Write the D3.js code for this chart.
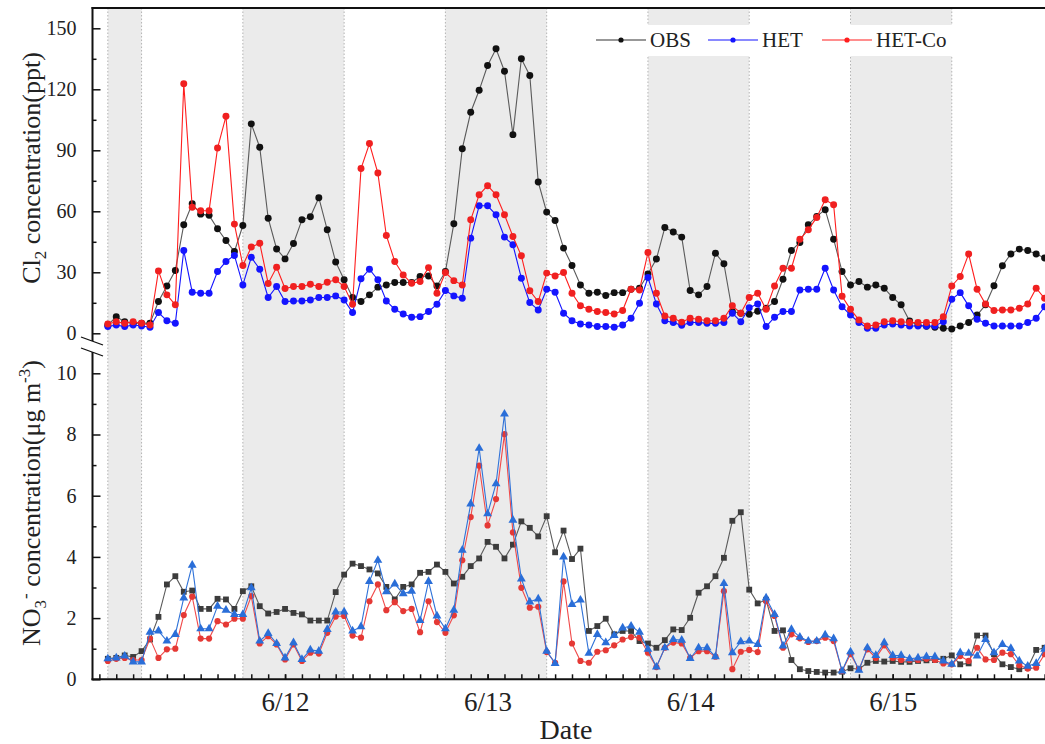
<!DOCTYPE html>
<html>
<head>
<meta charset="utf-8">
<script src="https://cdn.jsdelivr.net/npm/d3@7"></script>
<style>
  body { margin: 0; background: #fff; }
  svg { font-family: "Liberation Serif", "Times New Roman", serif; }
</style>
</head>
<body>
<div id="visContainerDiv"></div>
<script>
// hourly samples, first one at 03:00 on 6/11 (hour 3 counted from 6/11 00:00)
var startHour = 3;
var dayLabels = ["6/12", "6/13", "6/14", "6/15"];
var dayHours = [24, 48, 72, 96];
var nightBands = [[3, 7], [19, 31], [43, 55], [67, 79], [91, 103]];
var seriesNames = ["OBS", "HET", "HET-Co"];

var cl2Obs = [4, 8.2, 5.7, 5, 5, 5, 15.6, 23.3, 30.9, 53.4, 63.7, 58.6, 58, 51.4, 45.6, 40.2, 53, 103, 91.5, 56.6,
  41.5, 36.6, 44.2, 55.8, 57.3, 66.7, 50.9, 35.1, 26.3, 17.6, 15.6, 18.9, 22.7, 23.8, 25, 25, 25, 27.9, 28.2, 23.3,
  30.4, 53.9, 90.8, 108.7, 119.5, 131.7, 139.9, 128.9, 97.7, 135, 126.8, 74.4, 59.6, 55.5, 41.9, 33.3, 23.8, 19.7, 20.2, 18.6,
  20, 20, 21.7, 22.2, 29.2, 36.5, 52, 49.8, 47.3, 21, 18.9, 23, 39.4, 34.2, 10.7, 9.9, 9.4, 10.8, 12.3, 15.6,
  26.6, 40.7, 44.7, 53.4, 57.5, 60.8, 46.3, 30.4, 23.8, 25.5, 22.7, 23.8, 22.2, 17.6, 14, 6, 4, 3.5, 3, 2.5,
  2.1, 3.6, 5.3, 9, 14, 23.4, 33.2, 39, 41.4, 40.7, 39, 37];
var cl2Het = [3.3, 4.1, 3.3, 4.1, 3.6, 3, 10.2, 6.2, 4.9, 40.7, 20.2, 19.7, 19.7, 30.4, 35.3, 38.3, 23.8, 37.4, 31.5, 17.6,
  23, 15.6, 15.9, 15.9, 16.4, 17.6, 17.6, 18.4, 16.4, 10.2, 26.8, 31.5, 26.3, 15.9, 11.8, 9.5, 7.9, 8.2, 10.7, 14.3,
  21, 18.4, 17.2, 46.8, 62.7, 62.7, 58.3, 47.3, 43.5, 27.1, 15.1, 11.5, 21.7, 20.2, 9.9, 6.2, 4.6, 4.1, 3.3, 3.3,
  3, 4.1, 7.4, 14.8, 27.4, 14.4, 6.2, 5.3, 3.9, 5.3, 5.3, 4.9, 4.9, 5.3, 9.9, 5.7, 12.6, 14.4, 3.3, 7.9,
  10.7, 10.7, 21.3, 21.7, 21.7, 32, 21.3, 13.1, 9, 5.3, 2.5, 2.5, 4.1, 4.6, 4.1, 3.6, 3.6, 3.6, 3.6, 5.7,
  16.7, 20, 13.5, 6.9, 4.9, 3.6, 3.6, 3.6, 3.6, 5.3, 7.4, 13.1];
var cl2HetCo = [4.6, 5.7, 4.9, 5.7, 4.9, 4.1, 30.7, 18.9, 14, 122.7, 62, 60.3, 60.3, 91.1, 106.7, 53.7, 33.3, 42.4, 44.3, 24.5,
  32.5, 22, 23, 23, 24.1, 23, 25.1, 26.3, 23, 14.3, 81, 93.3, 78.8, 48.1, 35.3, 28.7, 24.6, 25.5, 32.3, 19.7,
  29.9, 25.9, 23.8, 55.8, 68.1, 72.6, 68.1, 58.3, 47.6, 38.1, 20.9, 15.6, 29.6, 28.2, 29.9, 19.7, 13.5, 11.8, 10.7, 10.2,
  9.5, 11.2, 21.7, 21.3, 39.7, 19.7, 8.5, 7.4, 5.5, 7.4, 6.9, 6.2, 6.2, 7.4, 13.5, 9.9, 17.6, 19.7, 11.8, 23.3,
  32, 32, 46.3, 50.9, 57, 65.7, 63.2, 18.2, 11.8, 6.6, 3.6, 4.1, 5.7, 6.2, 5.7, 5.3, 5.3, 5.3, 5.3, 8.2,
  23.3, 27.9, 39, 21.7, 14.4, 11.2, 11.5, 11.5, 12.3, 14.4, 22.2, 17.2];

var no3Obs = [0.67, 0.7, 0.78, 0.73, 0.92, 1.3, 2.04, 3.1, 3.37, 2.86, 2.9, 2.3, 2.3, 2.63, 2.61, 2.3, 2.88, 3.04, 2.39, 2.15,
  2.2, 2.3, 2.17, 2.12, 1.92, 1.92, 1.92, 2.85, 3.42, 3.78, 3.7, 3.59, 3.46, 3.02, 2.61, 3.02, 3.1, 3.48, 3.51, 3.75,
  3.51, 3.13, 3.35, 3.7, 3.95, 4.49, 4.33, 3.95, 4.4, 5.16, 4.95, 4.67, 5.33, 4.15, 4.86, 3.93, 4.27, 1.58, 1.74, 1.98,
  1.47, 1.58, 1.58, 1.25, 1.17, 1.03, 1.28, 1.63, 1.61, 2.01, 2.83, 3.04, 3.37, 3.97, 5.18, 5.46, 2.93, 2.48, 2.6, 1.58,
  1.6, 0.63, 0.33, 0.27, 0.24, 0.22, 0.22, 0.25, 0.36, 0.33, 0.54, 0.6, 0.58, 0.6, 0.57, 0.57, 0.6, 0.62, 0.63, 0.67,
  0.78, 0.49, 0.52, 1.43, 1.43, 0.82, 0.49, 0.4, 0.33, 0.38, 0.96, 1.03];
var no3Het = [0.67, 0.7, 0.76, 0.57, 0.57, 1.54, 1.58, 1.25, 1.47, 2.66, 3.73, 1.65, 1.65, 2.39, 2.26, 2.12, 2.12, 2.99, 1.25, 1.5,
  1.17, 0.7, 1.2, 0.65, 0.96, 0.92, 1.63, 2.2, 2.2, 1.58, 1.72, 3.2, 3.89, 2.86, 3.12, 2.8, 2.88, 1.92, 3.2, 2.07,
  1.65, 2.26, 4.22, 5.73, 7.55, 5.41, 6.39, 8.67, 5.2, 3.28, 2.53, 2.63, 0.92, 0.52, 4, 2.45, 2.59, 0.85, 1.47, 1.2,
  1.43, 1.68, 1.74, 1.54, 0.98, 0.4, 1.03, 1.3, 1.28, 0.68, 1.03, 1.03, 0.74, 3.13, 0.87, 1.23, 1.25, 1.14, 2.66, 2.12,
  1.09, 1.63, 1.38, 1.25, 1.25, 1.45, 1.33, 0.27, 0.9, 0.3, 1.03, 0.78, 1.2, 0.78, 0.78, 0.67, 0.7, 0.74, 0.74, 0.6,
  0.49, 0.87, 0.85, 0.76, 1.3, 0.87, 1.14, 1.01, 0.6, 0.43, 0.52, 0.98];
var no3HetCo = [0.6, 0.67, 0.7, 0.63, 0.63, 1.33, 0.7, 0.98, 1, 2.1, 2.7, 1.33, 1.33, 1.9, 1.79, 1.98, 1.98, 2.72, 1.17, 1.41,
  1.14, 0.65, 1.14, 0.6, 0.87, 0.84, 1.52, 2.05, 2.07, 1.43, 1.36, 2.55, 3.1, 2.26, 2.52, 2.23, 2.3, 1.54, 2.55, 1.87,
  1.52, 2.09, 3.89, 5.3, 6.98, 5.03, 5.89, 8.01, 4.8, 2.99, 2.34, 2.37, 0.89, 0.54, 3.2, 1.17, 0.6, 0.54, 0.9, 0.95,
  1.11, 1.3, 1.38, 1.36, 0.87, 0.4, 1.03, 1.2, 1.17, 0.7, 0.92, 0.92, 0.74, 2.88, 0.33, 0.9, 0.96, 0.89, 2.55, 2.07,
  1.03, 1.47, 1.34, 1.22, 1.25, 1.36, 1.25, 0.27, 0.82, 0.33, 0.98, 0.7, 1.11, 0.7, 0.63, 0.63, 0.63, 0.67, 0.63, 0.52,
  0.49, 0.76, 0.6, 1.03, 0.65, 0.63, 0.87, 0.82, 0.46, 0.35, 0.38, 0.82];

var W = 1045, H = 744;
var plotLeft = 92.5, plotRight = 1065, plotTop = 8, plotBottom = 679.3;
var breakTop = 341, breakBot = 352;

var x = d3.scaleLinear().domain([0, 96]).range([82.5, 892.7]);
var yTop = d3.scaleLinear().domain([0, 150]).range([333.3, 28.3]);
var yBot = d3.scaleLinear().domain([0, 10]).range([679.3, 373.3]);

var svg = d3.select("#visContainerDiv").append("svg")
  .attr("width", W).attr("height", H);

// night shading, dotted edges
svg.append("g").selectAll("rect")
  .data(nightBands)
  .enter().append("rect")
  .attr("x", function(d) { return x(d[0]); })
  .attr("y", plotTop)
  .attr("width", function(d) { return x(d[1]) - x(d[0]); })
  .attr("height", plotBottom - plotTop)
  .attr("fill", "#ebebeb");

var edges = [];
nightBands.forEach(function(d) { edges.push(d[0], d[1]); });
svg.append("g").selectAll("line")
  .data(edges)
  .enter().append("line")
  .attr("x1", function(d) { return x(d); }).attr("x2", function(d) { return x(d); })
  .attr("y1", plotTop).attr("y2", plotBottom)
  .attr("stroke", "#b4b4b4").attr("stroke-width", 1)
  .attr("stroke-dasharray", "1.5,2");

// legend box (white patch under the legend)
svg.append("rect")
  .attr("x", 588).attr("y", 25).attr("width", 367).attr("height", 31)
  .attr("fill", "#fff");

function hourOf(i) { return startHour + i; }

function drawSeries(values, yScale, lineColor, markColor, shape, size) {
  var g = svg.append("g");
  var line = d3.line()
    .x(function(d, i) { return x(hourOf(i)); })
    .y(function(d) { return yScale(d); });
  g.append("path")
    .datum(values)
    .attr("d", line)
    .attr("fill", "none")
    .attr("stroke", lineColor)
    .attr("stroke-width", 1.1);
  g.selectAll("path.mk")
    .data(values)
    .enter().append("path")
    .attr("class", "mk")
    .attr("transform", function(d, i) { return "translate(" + x(hourOf(i)) + "," + yScale(d) + ")"; })
    .attr("d", d3.symbol().type(shape).size(size))
    .attr("fill", markColor);
}

// Cl2 panel
drawSeries(cl2Obs, yTop, "#5a5a5a", "#111", d3.symbolCircle, 38);
drawSeries(cl2Het, yTop, "#1414ff", "#1414ff", d3.symbolCircle, 38);
drawSeries(cl2HetCo, yTop, "#ff1e1e", "#f02020", d3.symbolCircle, 38);

// NO3- panel
drawSeries(no3Obs, yBot, "#5a5a5a", "#3c3c3c", d3.symbolSquare, 34);
drawSeries(no3HetCo, yBot, "#f04a4a", "#e53935", d3.symbolCircle, 30);
drawSeries(no3Het, yBot, "#2f72d8", "#2a6ed8", d3.symbolTriangle, 34);

// axes
var axisG = svg.append("g").attr("stroke", "#111").attr("stroke-width", 2).attr("fill", "none");
axisG.append("line").attr("x1", plotLeft).attr("x2", plotLeft).attr("y1", plotTop - 1).attr("y2", breakTop);
axisG.append("line").attr("x1", plotLeft).attr("x2", plotLeft).attr("y1", breakBot).attr("y2", plotBottom + 1);
axisG.append("line").attr("x1", plotLeft - 1).attr("x2", plotRight).attr("y1", plotTop).attr("y2", plotTop);
axisG.append("line").attr("x1", plotLeft - 1).attr("x2", plotRight).attr("y1", plotBottom).attr("y2", plotBottom);
// break marks
axisG.append("line").attr("x1", 81).attr("y1", 337).attr("x2", 103).attr("y2", 345).attr("stroke-width", 1.3);
axisG.append("line").attr("x1", 81).attr("y1", 348).attr("x2", 103).attr("y2", 356).attr("stroke-width", 1.3);

function styleAxis(g, fontSize) {
  g.select(".domain").remove();
  g.attr("font-size", fontSize).attr("font-family", "Liberation Serif, Times New Roman, serif");
  g.selectAll(".tick line").attr("stroke", "#111").attr("stroke-width", 1.5);
  g.selectAll(".tick text").attr("fill", "#222");
}

var topMajor = d3.axisLeft(yTop).tickValues([0, 30, 60, 90, 120, 150]).tickSize(-8).tickPadding(16);
var topMinor = d3.axisLeft(yTop).tickValues([15, 45, 75, 105, 135]).tickSize(-4).tickFormat("");
var botMajor = d3.axisLeft(yBot).tickValues([0, 2, 4, 6, 8, 10]).tickSize(-8).tickPadding(16);
var botMinor = d3.axisLeft(yBot).tickValues([1, 3, 5, 7, 9]).tickSize(-4).tickFormat("");

[topMajor, topMinor, botMajor, botMinor].forEach(function(a) {
  svg.append("g").attr("transform", "translate(" + plotLeft + ",0)")
    .call(a).call(styleAxis, 20);
});

var hourTicks = d3.range(2, 116, 2);
var xMinor = d3.axisBottom(x).tickValues(hourTicks).tickSize(-5).tickFormat("");
var xMajor = d3.axisBottom(x).tickValues(dayHours).tickSize(-5).tickPadding(13)
  .tickFormat(function(d, i) { return dayLabels[i]; });
svg.append("g").attr("transform", "translate(0," + plotBottom + ")").call(xMinor).call(styleAxis, 20);
svg.append("g").attr("transform", "translate(0," + plotBottom + ")")
  .call(xMajor).call(styleAxis, 27);

// axis titles
var t1 = svg.append("text")
  .attr("transform", "translate(40,168) rotate(-90)")
  .attr("text-anchor", "middle").attr("font-size", 26).attr("fill", "#222");
t1.append("tspan").text("Cl");
t1.append("tspan").text("2").attr("font-size", 17).attr("dy", 6);
t1.append("tspan").text(" concentration(ppt)").attr("dy", -6);

var t2 = svg.append("text")
  .attr("transform", "translate(40,503) rotate(-90)")
  .attr("text-anchor", "middle").attr("font-size", 26).attr("fill", "#222");
t2.append("tspan").text("NO");
t2.append("tspan").text("3").attr("font-size", 17).attr("dy", 6);
t2.append("tspan").text("-").attr("font-size", 17).attr("dy", -15).attr("dx", 1);
t2.append("tspan").text(" concentration(\u03bcg m").attr("dy", 9);
t2.append("tspan").text("-3").attr("font-size", 17).attr("dy", -10);
t2.append("tspan").text(")").attr("dy", 10);

svg.append("text")
  .attr("x", 566).attr("y", 739)
  .attr("text-anchor", "middle").attr("font-size", 28).attr("fill", "#222")
  .text("Date");

// legend
var legendX = [596, 708, 822];
var legendColor = ["#111", "#1414ff", "#ff1e1e"];
var legendLine = ["#333", "#1414ff", "#ff1e1e"];
var lg = svg.append("g").selectAll("g")
  .data(seriesNames)
  .enter().append("g")
  .attr("transform", function(d, i) { return "translate(" + legendX[i] + ",0)"; });
lg.append("line")
  .attr("x1", 0).attr("x2", 50).attr("y1", 40).attr("y2", 40)
  .attr("stroke", function(d, i) { return legendLine[i]; }).attr("stroke-width", 1.1);
lg.append("circle")
  .attr("cx", 25).attr("cy", 40).attr("r", 2.6)
  .attr("fill", function(d, i) { return legendColor[i]; });
lg.append("text")
  .attr("x", 54).attr("y", 47)
  .attr("font-size", 21).attr("fill", "#222")
  .text(function(d) { return d; });
</script>
</body>
</html>
